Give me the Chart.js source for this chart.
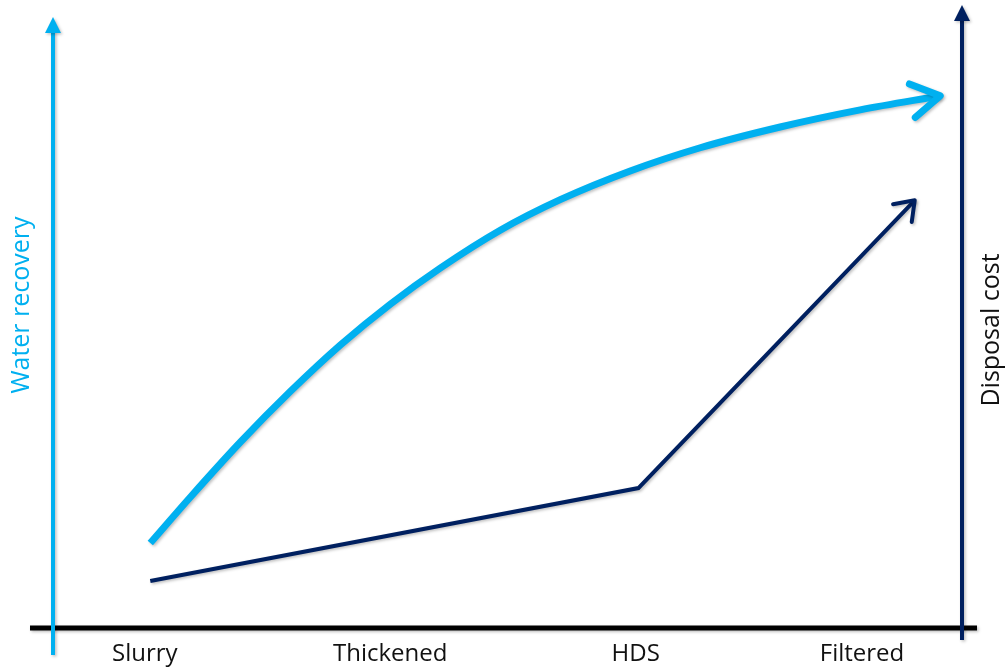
<!DOCTYPE html>
<html lang="en">
<head>
  <meta charset="UTF-8">
  <title>Water recovery vs disposal cost</title>
  <style>
    body {
      margin: 0;
      padding: 0;
      background: #fff;
    }
    #wrap {
      width: 1006px;
      height: 669px;
      position: relative;
    }
  </style>
</head>
<body>

  <div id="wrap">
    <canvas id="chart"></canvas>
  </div>

  <script src="https://cdn.jsdelivr.net/npm/chart.js"></script>

  <script>
    // categories along the bottom and where they sit on a 0-100 scale
    const categories = ["Slurry", "Thickened", "HDS", "Filtered"];
    const categoryPos = [10.1, 37.1, 64.1, 89.0];

    // water recovery curve (light blue)
    const waterX = [10.7, 15.1, 20.6, 26.1, 31.6, 37.1, 42.6, 49.2, 55.8, 63.5, 71.2, 80.0, 88.8, 97.6];
    const waterY = [13.9, 21.4, 30.4, 38.7, 46.3, 53.0, 58.9, 65.1, 70.1, 74.8, 78.6, 82.0, 84.8, 87.1];

    // disposal cost line (navy)
    const costX = [10.7, 64.4, 94.8];
    const costY = [7.7, 22.9, 70.0];

    const LIGHT = "#00B0F0";
    const NAVY = "#002060";
    const FONT = "'Open Sans', sans-serif";

    const toPoints = (xs, ys) => xs.map((x, i) => ({ x, y: ys[i] }));

    function withShadow(ctx) {
      ctx.shadowColor = "rgba(0,0,0,0.25)";
      ctx.shadowBlur = 3;
      ctx.shadowOffsetX = 1.5;
      ctx.shadowOffsetY = 1.5;
    }

    // open chevron at the end of a dataset
    function chevron(ctx, meta, len, angle, color, width) {
      const pts = meta.data;
      const tip = pts[pts.length - 1];
      let fx = tip.cp1x, fy = tip.cp1y;
      if (fx === undefined || (Math.abs(fx - tip.x) < 1 && Math.abs(fy - tip.y) < 1)) {
        fx = pts[pts.length - 2].x;
        fy = pts[pts.length - 2].y;
      }
      const dir = Math.atan2(tip.y - fy, tip.x - fx);
      ctx.save();
      withShadow(ctx);
      ctx.strokeStyle = color;
      ctx.lineWidth = width;
      ctx.lineCap = "round";
      ctx.lineJoin = "round";
      ctx.beginPath();
      ctx.moveTo(tip.x - len * Math.cos(dir - angle), tip.y - len * Math.sin(dir - angle));
      ctx.lineTo(tip.x, tip.y);
      ctx.lineTo(tip.x - len * Math.cos(dir + angle), tip.y - len * Math.sin(dir + angle));
      ctx.stroke();
      ctx.restore();
    }

    const axesPlugin = {
      id: "axesArrows",
      beforeDatasetsDraw(chart) {
        const { ctx, chartArea: a } = chart;
        ctx.save();
        withShadow(ctx);

        // x axis
        ctx.strokeStyle = "#000";
        ctx.lineWidth = 5;
        ctx.beginPath();
        ctx.moveTo(a.left - 23, a.bottom);
        ctx.lineTo(a.right + 15, a.bottom);
        ctx.stroke();

        // left axis (water recovery)
        ctx.strokeStyle = LIGHT;
        ctx.fillStyle = LIGHT;
        ctx.lineWidth = 4;
        ctx.beginPath();
        ctx.moveTo(a.left, a.bottom + 27);
        ctx.lineTo(a.left, a.top + 14);
        ctx.stroke();
        ctx.beginPath();
        ctx.moveTo(a.left, a.top);
        ctx.lineTo(a.left + 8, a.top + 16);
        ctx.lineTo(a.left - 8, a.top + 16);
        ctx.closePath();
        ctx.fill();

        // right axis (disposal cost)
        ctx.strokeStyle = NAVY;
        ctx.fillStyle = NAVY;
        ctx.beginPath();
        ctx.moveTo(a.right, a.bottom + 12);
        ctx.lineTo(a.right, a.top + 2);
        ctx.stroke();
        ctx.beginPath();
        ctx.moveTo(a.right, a.top - 12);
        ctx.lineTo(a.right + 8, a.top + 4);
        ctx.lineTo(a.right - 8, a.top + 4);
        ctx.closePath();
        ctx.fill();
        ctx.restore();

        // axis titles, both reading bottom to top
        ctx.save();
        ctx.font = "25px " + FONT;
        ctx.textAlign = "center";
        ctx.textBaseline = "middle";
        ctx.translate(a.left - 31, 305);
        ctx.rotate(-Math.PI / 2);
        ctx.fillStyle = LIGHT;
        ctx.fillText("Water recovery", 0, 0);
        ctx.restore();

        ctx.save();
        ctx.font = "25px " + FONT;
        ctx.textAlign = "center";
        ctx.textBaseline = "middle";
        ctx.translate(a.right + 30, 330);
        ctx.rotate(-Math.PI / 2);
        ctx.fillStyle = "#111";
        ctx.fillText("Disposal cost", 0, 0);
        ctx.restore();

        // shadow for the lines themselves
        ctx.save();
        withShadow(ctx);
      },
      afterDatasetsDraw(chart) {
        const ctx = chart.ctx;
        ctx.restore();
        chevron(ctx, chart.getDatasetMeta(0), 33, Math.PI / 5.8, LIGHT, 7);
        chevron(ctx, chart.getDatasetMeta(1), 22, Math.PI / 5, NAVY, 4);
      }
    };

    new Chart(document.getElementById("chart"), {
      type: "line",
      data: {
        datasets: [
          {
            label: "Water recovery",
            data: toPoints(waterX, waterY),
            borderColor: LIGHT,
            borderWidth: 7,
            pointRadius: 0,
            cubicInterpolationMode: "monotone",
            borderCapStyle: "butt"
          },
          {
            label: "Disposal cost",
            data: toPoints(costX, costY),
            borderColor: NAVY,
            borderWidth: 4,
            pointRadius: 0,
            tension: 0,
            borderJoinStyle: "miter"
          }
        ]
      },
      options: {
        responsive: true,
        maintainAspectRatio: false,
        animation: false,
        layout: { padding: { left: 53, right: 44, top: 17, bottom: 0 } },
        plugins: {
          legend: { display: false },
          tooltip: { enabled: false }
        },
        scales: {
          x: {
            type: "linear",
            min: 0,
            max: 100,
            grid: { display: false, drawTicks: false },
            border: { display: false },
            afterBuildTicks: scale => {
              scale.ticks = categoryPos.map(v => ({ value: v }));
            },
            afterFit: scale => { scale.height = 41; },
            ticks: {
              autoSkip: false,
              maxRotation: 0,
              padding: 12,
              color: "#111",
              font: { family: FONT, size: 24 },
              callback: v => categories[categoryPos.indexOf(v)]
            }
          },
          y: {
            min: 0,
            max: 100,
            display: false
          }
        }
      },
      plugins: [axesPlugin]
    });
  </script>

</body>
</html>
